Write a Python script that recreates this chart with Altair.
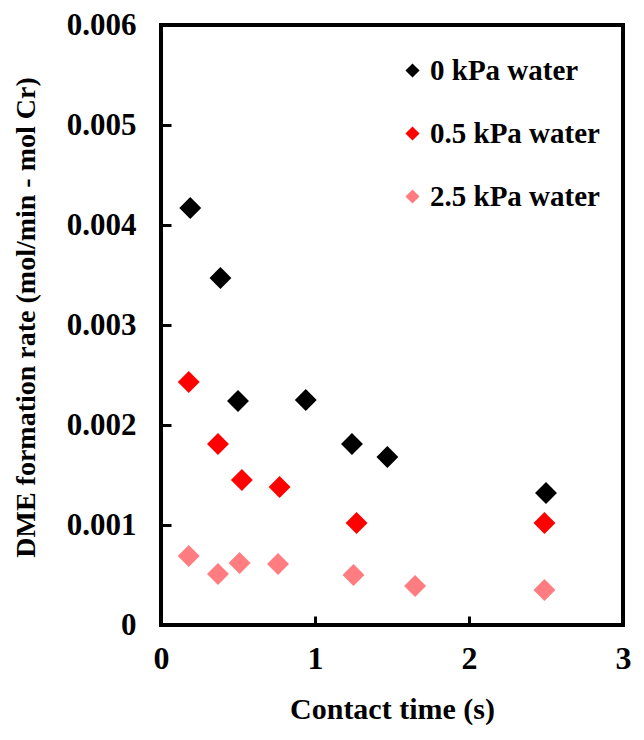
import altair as alt
import pandas as pd

series_names = ["0 kPa water", "0.5 kPa water", "2.5 kPa water"]
series_colors = ["#000000", "#ff0000", "#ff7c80"]

t_0 = [0.19, 0.386, 0.50, 0.94, 1.24, 1.47, 2.50]
r_0 = [0.00417, 0.00347, 0.00224, 0.00225, 0.00181, 0.00168, 0.00132]

t_05 = [0.18, 0.37, 0.525, 0.77, 1.27, 2.49]
r_05 = [0.00243, 0.00181, 0.00145, 0.00138, 0.00102, 0.00102]

t_25 = [0.18, 0.37, 0.51, 0.76, 1.25, 1.65, 2.49]
r_25 = [0.00069, 0.00051, 0.00062, 0.00061, 0.00050, 0.00039, 0.00035]

x_ticks = [0, 1, 2, 3]
y_ticks = [0, 0.001, 0.002, 0.003, 0.004, 0.005, 0.006]

rows = []
for name, ts, rs in zip(series_names, [t_0, t_05, t_25], [r_0, r_05, r_25]):
    for t, r in zip(ts, rs):
        rows.append({"series": name, "time": t, "rate": r})
df = pd.DataFrame(rows)

FONT = "Liberation Serif"

chart = alt.Chart(df).mark_point(
    shape="diamond", filled=True, size=480, opacity=1, strokeWidth=0
).encode(
    x=alt.X("time:Q",
            scale=alt.Scale(domain=[0, 3], nice=False),
            axis=alt.Axis(values=x_ticks, format="d", title="Contact time (s)",
                          grid=False, domain=False, tickSize=9, tickWidth=3,
                          tickColor="black", offset=-9, labelPadding=18,
                          labelFlush=False,
                          labelFont=FONT, labelFontSize=32, labelFontWeight="bold",
                          labelColor="black", titleFont=FONT, titleFontSize=30,
                          titleFontWeight="bold", titleColor="black", titlePadding=20)),
    y=alt.Y("rate:Q",
            scale=alt.Scale(domain=[0, 0.006], nice=False),
            axis=alt.Axis(values=y_ticks,
                          labelExpr="datum.value == 0 ? '0' : format(datum.value, '.3f')",
                          title="DME formation rate (mol/min - mol Cr)",
                          grid=False, domain=False, tickSize=10, tickWidth=3,
                          tickColor="black", offset=-10, labelPadding=25,
                          labelFlush=False, titleY=292,
                          labelFont=FONT, labelFontSize=31, labelFontWeight="bold",
                          labelColor="black", titleFont=FONT, titleFontSize=28,
                          titleFontWeight="bold", titleColor="black", titlePadding=26)),
    color=alt.Color("series:N",
                    scale=alt.Scale(domain=series_names, range=series_colors),
                    legend=alt.Legend(title=None, orient="none", legendX=237, legendY=31,
                                      symbolSize=200, symbolType="diamond",
                                      labelFont=FONT, labelFontSize=29,
                                      labelFontWeight="bold", labelColor="black",
                                      rowPadding=33, labelOffset=3, padding=0,
                                      labelLimit=400, symbolStrokeWidth=0)),
).properties(
    width=462, height=600,
    autosize=alt.AutoSizeParams(type="none"),
    padding={"left": 153, "top": 17, "right": 10, "bottom": 102},
).configure(
    background="white"
).configure_view(
    stroke="black", strokeWidth=4
)

chart.save("out.html", embed_options={"renderer": "svg", "actions": False})
